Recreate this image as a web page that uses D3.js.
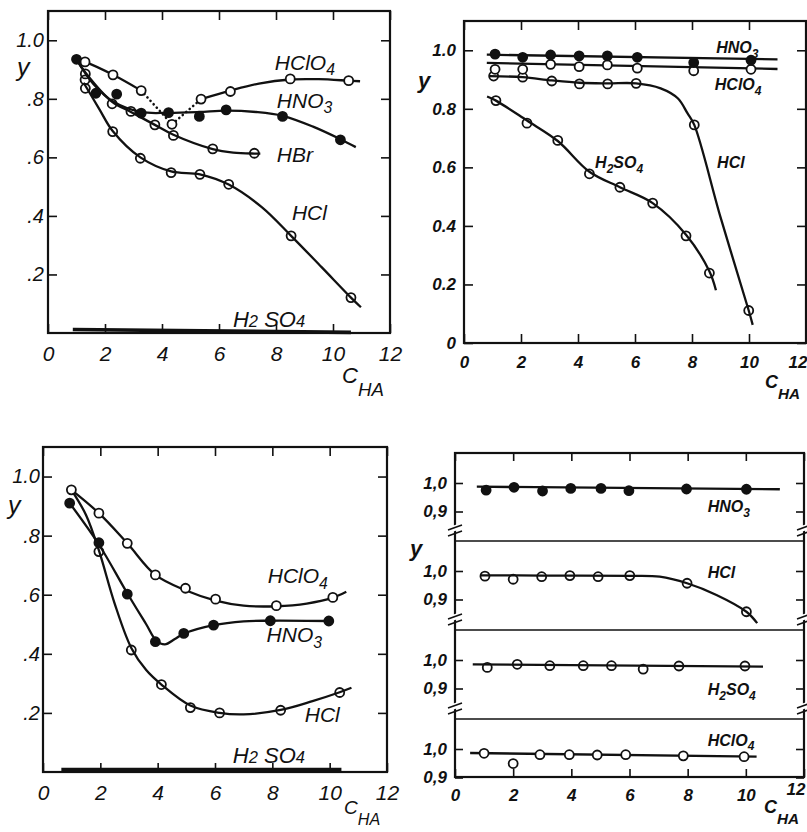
<!DOCTYPE html>
<html>
<head>
<meta charset="utf-8">
<script src="https://cdn.jsdelivr.net/npm/d3@7"></script>
<style>
body { margin: 0; background: #fff; }
svg { display: block; }
text { font-family: "Liberation Sans", Arial, sans-serif; font-style: italic; fill: #111; }
</style>
</head>
<body>
<script>
// ---------- tick values / labels ----------
const xTicks = [0, 2, 4, 6, 8, 10, 12];
const yTicksA = [0.2, 0.4, 0.6, 0.8, 1.0];
const yLabelsA = [".2", ".4", ".6", ".8", "1.0"];
const yTicksB = [0, 0.2, 0.4, 0.6, 0.8, 1.0];
const yLabelsB = ["0", "0.2", "0.4", "0.6", "0.8", "1.0"];
const yTicksD = [0.9, 1.0];
const yLabelsD = ["0,9", "1,0"];

// ---------- panel a (top left) ----------
const aHClO4Pts = [[1.3,0.926],[2.28,0.882],[3.27,0.828],[4.35,0.713],[5.37,0.799],[6.4,0.825],[8.5,0.868],[10.55,0.862]];
const aHClO4Solid1 = [[1.0,0.935],[1.3,0.926],[2.28,0.882],[3.27,0.828]];
const aHClO4Dotted = [[3.27,0.828],[4.35,0.713],[5.37,0.799]];
const aHClO4Solid2 = [[5.37,0.799],[6.4,0.828],[7.4,0.852],[8.5,0.866],[9.5,0.867],[10.55,0.862],[10.95,0.86]];
const aHNO3Pts = [[1.0,0.935],[1.68,0.819],[2.41,0.816],[3.27,0.751],[4.23,0.753],[5.31,0.74],[6.25,0.762],[8.23,0.74],[10.26,0.66]];
const aHNO3Line = [[1.0,0.935],[1.6,0.85],[2.3,0.79],[3.27,0.755],[4.2,0.752],[5.3,0.755],[6.25,0.76],[7.3,0.755],[8.23,0.742],[9.3,0.705],[10.26,0.662],[10.8,0.635]];
const aHBrPts = [[1.31,0.885],[2.25,0.783],[2.91,0.757],[3.75,0.711],[4.4,0.675],[5.78,0.629],[7.24,0.614]];
const aHBrLine = [[1.0,0.935],[1.31,0.89],[2.25,0.79],[2.91,0.755],[3.75,0.711],[4.4,0.677],[5.78,0.628],[6.5,0.616],[7.24,0.613],[7.45,0.613]];
const aHClPts = [[1.3,0.865],[1.31,0.836],[2.27,0.688],[3.24,0.597],[4.32,0.548],[5.33,0.542],[6.34,0.508],[8.53,0.332],[10.63,0.121]];
const aHClLine = [[1.25,0.855],[1.8,0.765],[2.27,0.69],[3.24,0.6],[4.32,0.552],[5.33,0.542],[6.34,0.507],[7.5,0.43],[8.53,0.332],[9.6,0.225],[10.63,0.121],[10.98,0.088]];
const aH2SO4Line = [[0.87,0.012],[10.63,0.002]];

// ---------- panel b (top right) ----------
const bHNO3Pts = [[1.09,0.987],[2.06,0.976],[3.04,0.984],[4.04,0.981],[5.03,0.981],[6.08,0.976],[8.06,0.958],[10.07,0.966]];
const bHNO3Line = [[0.8,0.985],[11.0,0.969]];
const bHClO4Pts = [[1.09,0.935],[2.06,0.935],[3.04,0.952],[4.04,0.944],[5.03,0.95],[6.08,0.939],[8.06,0.93],[10.07,0.935]];
const bHClO4Line = [[0.8,0.957],[11.0,0.936]];
const bHClPts = [[1.04,0.912],[2.06,0.908],[3.08,0.895],[4.05,0.885],[5.04,0.885],[6.04,0.887],[8.08,0.745],[9.99,0.111]];
const bHClLine = [[0.9,0.912],[2.06,0.908],[3.08,0.897],[4.05,0.889],[5.04,0.887],[6.04,0.887],[6.9,0.87],[7.5,0.836],[7.84,0.785],[8.08,0.745],[9.0,0.43],[9.99,0.111],[10.13,0.062]];
const bH2SO4Pts = [[1.12,0.828],[2.21,0.751],[3.29,0.692],[4.4,0.578],[5.47,0.532],[6.62,0.478],[7.79,0.366],[8.61,0.239]];
const bH2SO4Line = [[0.81,0.842],[1.12,0.828],[2.21,0.76],[3.29,0.69],[4.4,0.585],[5.47,0.532],[6.62,0.478],[7.79,0.37],[8.61,0.245],[8.84,0.18]];

// ---------- panel c (bottom left) ----------
const cHClO4Pts = [[0.99,0.955],[1.95,0.876],[2.94,0.774],[3.92,0.667],[4.97,0.622],[6.02,0.585],[8.14,0.563],[10.11,0.591]];
const cHClO4Line = [[0.99,0.955],[1.95,0.876],[2.94,0.774],[3.92,0.667],[4.97,0.615],[6.02,0.58],[7.0,0.563],[8.14,0.561],[9.2,0.57],[10.11,0.59],[10.58,0.61]];
const cHNO3Pts = [[0.93,0.91],[1.95,0.776],[2.94,0.602],[3.92,0.441],[4.91,0.469],[5.95,0.497],[7.93,0.512],[9.97,0.511]];
const cHNO3Line = [[0.93,0.91],[1.95,0.77],[2.94,0.605],[3.6,0.5],[3.95,0.445],[4.25,0.432],[4.6,0.45],[4.91,0.468],[5.95,0.497],[7.0,0.51],[7.93,0.512],[9.97,0.511]];
const cHClPts = [[1.95,0.746],[3.08,0.413],[4.13,0.296],[5.14,0.218],[6.16,0.2],[8.29,0.209],[10.35,0.269]];
const cHClLine = [[0.99,0.955],[1.5,0.87],[1.95,0.75],[2.5,0.57],[3.08,0.42],[3.6,0.345],[4.13,0.296],[5.14,0.225],[6.16,0.2],[7.0,0.195],[8.29,0.21],[9.4,0.24],[10.35,0.27],[10.76,0.285]];
const cH2SO4Line = [[0.64,0.008],[10.41,0.008]];

// ---------- panel d (bottom right, four strips) ----------
const dHNO3Pts = [[1.07,0.975],[2.03,0.985],[3.01,0.972],[3.98,0.981],[5.02,0.981],[5.98,0.973],[7.96,0.979],[10.02,0.978]];
const dHNO3Line = [[0.75,0.987],[11.17,0.978]];
const dHClPts = [[1.03,0.982],[2.0,0.971],[2.98,0.98],[3.95,0.984],[4.92,0.98],[6.01,0.984],[7.98,0.957],[10.02,0.857]];
const dHClLine = [[0.86,0.985],[3.0,0.984],[6.0,0.983],[7.04,0.98],[7.98,0.957],[8.99,0.916],[10.02,0.857],[10.39,0.817]];
const dH2SO4Pts = [[1.11,0.974],[2.14,0.985],[3.26,0.98],[4.41,0.98],[5.38,0.98],[6.47,0.968],[7.7,0.979],[9.97,0.979]];
const dH2SO4Line = [[0.61,0.985],[10.59,0.977]];
const dHClO4Pts = [[1.0,0.985],[2.0,0.949],[2.92,0.98],[3.93,0.98],[4.89,0.979],[5.87,0.98],[7.85,0.976],[9.94,0.973]];
const dHClO4Line = [[0.52,0.986],[10.37,0.973]];

// ---------- drawing ----------
const svg = d3.select("body").append("svg")
	.attr("width", 807)
	.attr("height", 832);

const ink = "#111";

function lineGen(x, y, curve) {
	return d3.line()
		.x(d => x(d[0]))
		.y(d => y(d[1]))
		.curve(curve || d3.curveCatmullRom.alpha(0.5));
}

function curve(g, x, y, pts, opts) {
	opts = opts || {};
	g.append("path")
		.attr("d", lineGen(x, y, opts.curve)(pts))
		.attr("fill", "none")
		.attr("stroke", ink)
		.attr("stroke-width", opts.width || 2.3)
		.attr("stroke-linecap", opts.dash ? "round" : "butt")
		.attr("stroke-dasharray", opts.dash || null);
}

function marks(g, x, y, pts, kind) {
	g.selectAll(null).data(pts).enter().append("circle")
		.attr("cx", d => x(d[0]))
		.attr("cy", d => y(d[1]))
		.attr("r", 4.5)
		.attr("fill", kind === "filled" ? ink : kind === "open" ? "#fff" : "none")
		.attr("stroke", ink)
		.attr("stroke-width", 1.8);
}

// text with subscripts; parts = [[string, "sub"|"low"|undefined], ...]
function label(g, px, py, parts, size, weight) {
	const t = g.append("text")
		.attr("x", px).attr("y", py)
		.attr("font-size", size)
		.attr("font-weight", weight || "normal");
	let shift = 0;
	parts.forEach(([s, kind]) => {
		const want = kind === "sub" ? size * 0.28 : 0;
		t.append("tspan").text(s)
			.attr("dy", want - shift)
			.attr("font-size", kind ? size * 0.75 : size);
		shift = want;
	});
}

function axisTitleC(g, px, py, size, weight) {
	const t = g.append("text").attr("x", px).attr("y", py)
		.attr("font-size", size).attr("font-weight", weight || "normal");
	t.append("tspan").text("C");
	t.append("tspan").text("HA").attr("dy", size * 0.6).attr("font-size", size * 0.85);
}

function styleAxis(sel, size, weight) {
	sel.attr("font-size", size).attr("font-family", null).attr("font-weight", weight || "normal");
	sel.select(".domain").remove();
	sel.selectAll(".tick line").attr("stroke", ink).attr("stroke-width", 1.6);
	sel.selectAll(".tick text").attr("fill", ink);
}

// last x label sits on the page edge: keep it inside
function pullLast(sel, dy) {
	sel.selectAll(".tick text").filter(d => d === 12)
		.attr("text-anchor", "end").attr("dx", 1).attr("y", function() { return +d3.select(this).attr("y") - (dy || 0); });
}

// standard framed panel (a, b, c)
function panel(box, yTicks, yLabels, fs, weight) {
	const g = svg.append("g");
	const x = d3.scaleLinear().domain([0, 12]).range([box.left, box.right]);
	const y = d3.scaleLinear().domain([0, 1.1]).range([box.bottom, box.top]);

	const bottomAxis = g.append("g").attr("transform", `translate(0,${box.bottom})`)
		.call(d3.axisBottom(x).tickValues(xTicks).tickSizeInner(-9).tickSizeOuter(0).tickPadding(13).tickFormat(d3.format("d")))
		.call(s => styleAxis(s, fs.x, weight));
	if (box.right > 800) pullLast(bottomAxis, 0);
	g.append("g").attr("transform", `translate(0,${box.top})`)
		.call(d3.axisTop(x).tickValues(xTicks).tickSizeInner(-9).tickSizeOuter(0).tickFormat(""))
		.call(s => styleAxis(s, fs.x));
	g.append("g").attr("transform", `translate(${box.left},0)`)
		.call(d3.axisLeft(y).tickValues(yTicks).tickSizeInner(-9).tickSizeOuter(0).tickPadding(fs.pad).tickFormat((d, i) => yLabels[i]))
		.call(s => styleAxis(s, fs.y, weight));
	g.append("g").attr("transform", `translate(${box.right},0)`)
		.call(d3.axisRight(y).tickValues(yTicks).tickSizeInner(-9).tickSizeOuter(0).tickFormat(""))
		.call(s => styleAxis(s, fs.y));

	g.append("rect")
		.attr("x", box.left).attr("y", box.top)
		.attr("width", box.right - box.left).attr("height", box.bottom - box.top)
		.attr("fill", "none").attr("stroke", ink).attr("stroke-width", 2.2);
	return { g, x, y };
}

// ---- panel a ----
{
	const { g, x, y } = panel({ left: 48, right: 390, top: 11, bottom: 333 }, yTicksA, yLabelsA, { x: 21, y: 20, pad: 4 });
	curve(g, x, y, aH2SO4Line, { width: 3.6, curve: d3.curveLinear });
	curve(g, x, y, aHClLine);
	curve(g, x, y, aHBrLine);
	curve(g, x, y, aHNO3Line);
	curve(g, x, y, aHClO4Solid1);
	curve(g, x, y, aHClO4Dotted, { curve: d3.curveLinear, dash: "0.1,4.5", width: 2.6 });
	curve(g, x, y, aHClO4Solid2);
	marks(g, x, y, aHClPts, "thru");
	marks(g, x, y, aHBrPts, "thru");
	marks(g, x, y, aHNO3Pts, "filled");
	marks(g, x, y, aHClO4Pts, "open");
	label(g, x(7.96), y(0.9), [["HClO"], ["4", "sub"]], 21);
	label(g, x(8.03), y(0.77), [["HNO"], ["3", "sub"]], 21);
	label(g, x(8.03), y(0.585), [["HBr"]], 21);
	label(g, x(8.56), y(0.386), [["HCl"]], 21);
	label(g, x(6.49), y(0.02), [["H"], ["2", "low"], [" SO"], ["4", "low"]], 22);
	g.append("text").attr("x", 17).attr("y", 76).attr("font-size", 25).text("y");
	axisTitleC(g, 342, 383, 22);
}

// ---- panel b ----
{
	const { g, x, y } = panel({ left: 464, right: 806, top: 21, bottom: 343 }, yTicksB, yLabelsB, { x: 17, y: 17, pad: 8 }, "bold");
	curve(g, x, y, bHNO3Line, { curve: d3.curveLinear });
	curve(g, x, y, bHClO4Line, { curve: d3.curveLinear });
	curve(g, x, y, bHClLine);
	curve(g, x, y, bH2SO4Line);
	marks(g, x, y, bHClPts, "thru");
	marks(g, x, y, bH2SO4Pts, "thru");
	marks(g, x, y, bHClO4Pts, "open");
	marks(g, x, y, bHNO3Pts, "filled");
	label(g, x(8.85), y(0.99), [["HNO"], ["3", "sub"]], 16, "bold");
	label(g, x(8.8), y(0.863), [["HClO"], ["4", "sub"]], 16, "bold");
	label(g, x(4.6), y(0.597), [["H"], ["2", "sub"], ["SO"], ["4", "sub"]], 16, "bold");
	label(g, x(8.88), y(0.597), [["HCl"]], 16, "bold");
	g.append("text").attr("x", 418).attr("y", 88).attr("font-size", 22).attr("font-weight", "bold").text("y");
	axisTitleC(g, 765, 388, 18, "bold");
}

// ---- panel c ----
{
	const { g, x, y } = panel({ left: 43, right: 387, top: 447, bottom: 772 }, yTicksA, yLabelsA, { x: 21, y: 20, pad: 3 });
	curve(g, x, y, cH2SO4Line, { width: 3.6, curve: d3.curveLinear });
	curve(g, x, y, cHClLine);
	curve(g, x, y, cHNO3Line);
	curve(g, x, y, cHClO4Line);
	marks(g, x, y, cHClPts, "thru");
	marks(g, x, y, cHNO3Pts, "filled");
	marks(g, x, y, cHClO4Pts, "open");
	label(g, x(7.84), y(0.64), [["HClO"], ["4", "sub"]], 21);
	label(g, x(7.8), y(0.44), [["HNO"], ["3", "sub"]], 21);
	label(g, x(9.13), y(0.17), [["HCl"]], 21);
	label(g, x(6.62), y(0.03), [["H"], ["2", "low"], [" SO"], ["4", "low"]], 22);
	g.append("text").attr("x", 8).attr("y", 514).attr("font-size", 25).text("y");
	axisTitleC(g, 344, 814, 19);
}

// ---- panel d ----
{
	const g = svg.append("g");
	const left = 455, right = 804;
	const tops = [453, 541, 630, 719];
	const bottom = 777;
	const x = d3.scaleLinear().domain([0, 12]).range([left, right]);
	const strips = tops.map(t => d3.scaleLinear().domain([0.9, 1.0]).range([t + 58.5, t + 30]));

	const series = [
		{ pts: dHNO3Pts, line: dHNO3Line, kind: "filled", name: [["HNO"], ["3", "sub"]], lv: 0.898, curve: d3.curveLinear },
		{ pts: dHClPts, line: dHClLine, kind: "thru", name: [["HCl"]], lv: 0.975 },
		{ pts: dH2SO4Pts, line: dH2SO4Line, kind: "thru", name: [["H"], ["2", "sub"], ["SO"], ["4", "sub"]], lv: 0.877, curve: d3.curveLinear },
		{ pts: dHClO4Pts, line: dHClO4Line, kind: "open", name: [["HClO"], ["4", "sub"]], lv: 1.012, curve: d3.curveLinear }
	];

	strips.forEach((y, i) => {
		g.append("g").attr("transform", `translate(${left},0)`)
			.call(d3.axisLeft(y).tickValues(yTicksD).tickSizeInner(-8).tickSizeOuter(0).tickPadding(8).tickFormat((d, k) => yLabelsD[k]))
			.call(s => styleAxis(s, 17, "bold"));
		g.append("g").attr("transform", `translate(${right},0)`)
			.call(d3.axisRight(y).tickValues(yTicksD).tickSizeInner(-8).tickSizeOuter(0).tickFormat(""))
			.call(s => styleAxis(s, 17));
		const s = series[i];
		curve(g, x, y, s.line, { curve: s.curve });
		marks(g, x, y, s.pts, s.kind);
		label(g, x(8.69), y(s.lv), s.name, 16, "bold");
	});

	g.append("g").attr("transform", `translate(0,${tops[0]})`)
		.call(d3.axisTop(x).tickValues(xTicks).tickSizeInner(-8).tickSizeOuter(0).tickFormat(""))
		.call(s => styleAxis(s, 17));
	g.append("g").attr("transform", `translate(0,${bottom})`)
		.call(d3.axisBottom(x).tickValues(xTicks).tickSizeInner(-8).tickSizeOuter(0).tickPadding(12).tickFormat(d3.format("d")))
		.call(s => styleAxis(s, 17, "bold"))
		.call(s => pullLast(s, 6));

	g.append("rect")
		.attr("x", left).attr("y", tops[0])
		.attr("width", right - left).attr("height", bottom - tops[0])
		.attr("fill", "none").attr("stroke", ink).attr("stroke-width", 2.2);
	tops.slice(1).forEach(t => {
		g.append("line").attr("x1", left).attr("x2", right).attr("y1", t).attr("y2", t)
			.attr("stroke", ink).attr("stroke-width", 1.6);
	});

	// axis break marks
	tops.slice(1).forEach(t => {
		[left, right].forEach(ax => {
			const by = t - 12;
			g.append("polygon")
				.attr("points", `${ax - 3},${by + 3} ${ax + 3},${by + 1} ${ax + 3},${by - 5} ${ax - 3},${by - 3}`)
				.attr("fill", "#fff");
			[0, 6].forEach(o => {
				g.append("line")
					.attr("x1", ax - 7).attr("y1", by + 1 + o)
					.attr("x2", ax + 7).attr("y2", by - 4 + o)
					.attr("stroke", ink).attr("stroke-width", 1.6);
			});
		});
	});

	g.append("text").attr("x", 410).attr("y", 556).attr("font-size", 22).attr("font-weight", "bold").text("y");
	axisTitleC(g, 764, 813, 18, "bold");
}
</script>
</body>
</html>
